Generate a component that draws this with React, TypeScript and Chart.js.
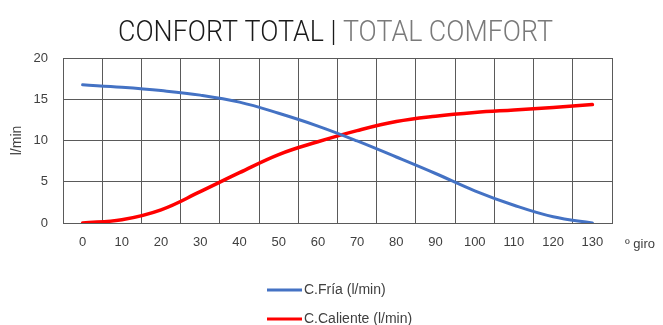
import { useEffect, useRef } from 'react';
import { Chart, registerables } from 'chart.js';

Chart.register(...registerables);

const categories = ['0', '10', '20', '30', '40', '50', '60', '70', '80', '90', '100', '110', '120', '130'];
const friaValues = [16.75, 16.45, 16.05, 15.5, 14.65, 13.3, 11.75, 9.95, 8.0, 6.0, 3.9, 2.15, 0.75, 0];
const calienteValues = [0, 0.4, 1.6, 3.8, 6.1, 8.3, 9.85, 11.2, 12.3, 12.95, 13.4, 13.7, 14.0, 14.35];
const yTickValues = [0, 5, 10, 15, 20];
const seriesLabels = ['C.Fría (l/min)', 'C.Caliente (l/min)'];
const seriesColors = ['#4472C4', '#FF0000'];
const seriesWidths = [3, 3.5];
const titleMain = 'CONFORT TOTAL | ';
const titleSub = 'TOTAL COMFORT';
const yAxisTitle = 'l/min';
const xAxisUnit = 'º giro';

const GRID = '#5a5a5a';
const TEXT = '#404040';
const FONT = "'Liberation Sans', Arial, sans-serif";

const decorPlugin = {
  id: 'decor',
  afterDraw(chart: any) {
    const ctx = chart.ctx as CanvasRenderingContext2D;
    // Title
    ctx.save();
    ctx.font = "300 30px Roboto, sans-serif";
    const w1 = ctx.measureText(titleMain).width;
    const w2 = ctx.measureText(titleSub).width;
    const s = 435 / (w1 + w2);
    ctx.translate(118, 41);
    ctx.scale(s, 1);
    ctx.textBaseline = 'alphabetic';
    ctx.textAlign = 'left';
    ctx.fillStyle = '#1a1a1a';
    ctx.fillText(titleMain, 0, 0);
    ctx.fillStyle = '#7a7a7a';
    ctx.fillText(titleSub, w1, 0);
    ctx.restore();

    // x unit
    ctx.save();
    ctx.font = `13px ${FONT}`;
    ctx.fillStyle = TEXT;
    ctx.textBaseline = 'alphabetic';
    ctx.fillText(xAxisUnit, 625, 248);
    ctx.restore();

    // legend
    ctx.save();
    chart.data.datasets.forEach((ds: any, i: number) => {
      const y = i === 0 ? 290 : 319;
      ctx.strokeStyle = ds.borderColor;
      ctx.lineWidth = 3;
      ctx.beginPath();
      ctx.moveTo(267, y);
      ctx.lineTo(302, y);
      ctx.stroke();
      ctx.font = `14px ${FONT}`;
      ctx.fillStyle = TEXT;
      ctx.textBaseline = 'middle';
      ctx.fillText(ds.label, 304, y);
    });
    ctx.restore();
  },
};

export default function App() {
  const ref = useRef<HTMLCanvasElement | null>(null);
  useEffect(() => {
    if (!ref.current) return;
    const mk = (i: number, data: number[]) => ({
      label: seriesLabels[i],
      data,
      borderColor: seriesColors[i],
      backgroundColor: seriesColors[i],
      borderWidth: seriesWidths[i],
      pointRadius: 0,
      tension: 0.4,
      borderCapStyle: 'round',
      borderJoinStyle: 'round',
    });
    const chart = new Chart(ref.current, {
      type: 'line',
      data: {
        labels: categories,
        datasets: [mk(0, friaValues), mk(1, calienteValues)],
      },
      options: {
        responsive: false,
        animation: false,
        layout: { padding: { top: 58, right: 51, bottom: 0, left: 0 } },
        plugins: {
          legend: { display: false },
          title: { display: false },
          tooltip: { enabled: false },
        },
        scales: {
          x: {
            type: 'category',
            offset: true,
            grid: { offset: true, color: GRID, drawTicks: false, lineWidth: 1 },
            border: { color: GRID },
            ticks: { color: TEXT, font: { family: FONT, size: 13 }, padding: 12, maxRotation: 0, autoSkip: false },
            afterFit: (scale: any) => {
              scale.height = 102;
            },
          },
          y: {
            min: 0,
            max: 20,
            grid: { color: GRID, drawTicks: false, lineWidth: 1 },
            border: { color: GRID },
            afterBuildTicks: (scale: any) => {
              scale.ticks = yTickValues.map((v) => ({ value: v }));
            },
            ticks: { color: TEXT, font: { family: FONT, size: 13 }, padding: 15 },
            title: {
              display: true,
              text: yAxisTitle,
              color: TEXT,
              font: { family: FONT, size: 14 },
              padding: { top: 9, bottom: 0 },
            },
            afterFit: (scale: any) => {
              scale.width = 63;
            },
          },
        },
      },
      plugins: [decorPlugin],
    } as any);
    return () => chart.destroy();
  }, []);
  return (
    <div style={{ position: 'absolute', left: 0, top: 0, width: 663, height: 325, background: '#fff' }}>
      <canvas ref={ref} width={663} height={325} />
    </div>
  );
}
